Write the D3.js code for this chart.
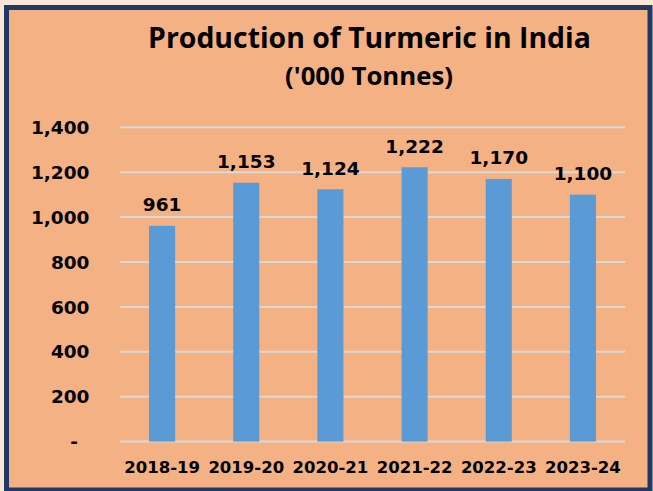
<!DOCTYPE html>
<html>
<head>
<meta charset="UTF-8">
<title>Production of Turmeric in India</title>
<script src="https://cdn.jsdelivr.net/npm/d3@7"></script>
<style>
  body { margin: 0; background: #fbe5d6; }
  svg { display: block; }
</style>
</head>
<body>
<script>
// data
const years = ['2018-19', '2019-20', '2020-21', '2021-22', '2022-23', '2023-24'];
const production = [961, 1153, 1124, 1222, 1170, 1100];
const yTicks = [0, 200, 400, 600, 800, 1000, 1200, 1400];

const width = 653;
const height = 491;

const svg = d3.select('body')
    .append('svg')
    .attr('width', width)
    .attr('height', height);

svg.append('rect')
    .attr('width', width)
    .attr('height', height)
    .attr('fill', '#fbe5d6');

// chart area with dark frame
svg.append('rect')
    .attr('x', 6.5)
    .attr('y', 7.5)
    .attr('width', 643.5)
    .attr('height', 482.5)
    .attr('fill', '#f4b183')
    .attr('stroke', '#203864')
    .attr('stroke-width', 5);

const x = d3.scaleBand()
    .domain(years)
    .range([120, 625])
    .paddingInner(0.69)
    .paddingOuter(0.345);

const y = d3.scaleLinear()
    .domain([0, 1400])
    .range([441.6, 127.3]);

const fmt = d3.format(',');
const labelFont = 'DejaVu Sans, Verdana, sans-serif';

// title, fitted to the measured widths
function fitText(sel, target) {
    const w = sel.node().getComputedTextLength();
    const fs = parseFloat(sel.attr('font-size'));
    sel.attr('font-size', fs * target / w);
}

const title = svg.append('text')
    .attr('x', 369.5)
    .attr('y', 48)
    .attr('text-anchor', 'middle')
    .attr('font-family', 'Open Sans, sans-serif')
    .attr('font-weight', 'bold')
    .attr('font-size', 24)
    .text('Production of Turmeric in India');
fitText(title, 443);

const subtitle = svg.append('text')
    .attr('x', 369)
    .attr('y', 85)
    .attr('text-anchor', 'middle')
    .attr('font-family', 'Open Sans, sans-serif')
    .attr('font-weight', 'bold')
    .attr('font-size', 18)
    .text("('000 Tonnes)");
fitText(subtitle, 168);

// gridlines
svg.append('g')
    .attr('stroke', '#d9d9d9')
    .attr('stroke-width', 2)
    .selectAll('line')
    .data(yTicks)
    .join('line')
    .attr('x1', 120)
    .attr('x2', 625)
    .attr('y1', d => y(d))
    .attr('y2', d => y(d));

// y axis labels
svg.append('g')
    .attr('font-family', labelFont)
    .attr('font-weight', 'bold')
    .attr('font-size', 18.5)
    .attr('text-anchor', 'end')
    .selectAll('text')
    .data(yTicks)
    .join('text')
    .attr('x', d => d === 0 ? 78 : 89.5)
    .attr('y', d => y(d))
    .attr('dy', '0.36em')
    .text(d => d === 0 ? '-' : fmt(d));

// bars
svg.append('g')
    .attr('fill', '#5b9bd5')
    .selectAll('rect')
    .data(production)
    .join('rect')
    .attr('x', (d, i) => x(years[i]))
    .attr('width', x.bandwidth())
    .attr('y', d => y(d))
    .attr('height', d => y(0) - y(d));

// value labels
svg.append('g')
    .attr('font-family', labelFont)
    .attr('font-weight', 'bold')
    .attr('font-size', 18.5)
    .attr('text-anchor', 'middle')
    .selectAll('text')
    .data(production)
    .join('text')
    .attr('x', (d, i) => x(years[i]) + x.bandwidth() / 2)
    .attr('y', d => y(d) - 14.5)
    .text(d => fmt(d));

// category labels
svg.append('g')
    .attr('font-family', labelFont)
    .attr('font-weight', 'bold')
    .attr('font-size', 16.5)
    .attr('text-anchor', 'middle')
    .selectAll('text')
    .data(years)
    .join('text')
    .attr('x', d => x(d) + x.bandwidth() / 2)
    .attr('y', 473)
    .text(d => d);
</script>
</body>
</html>
